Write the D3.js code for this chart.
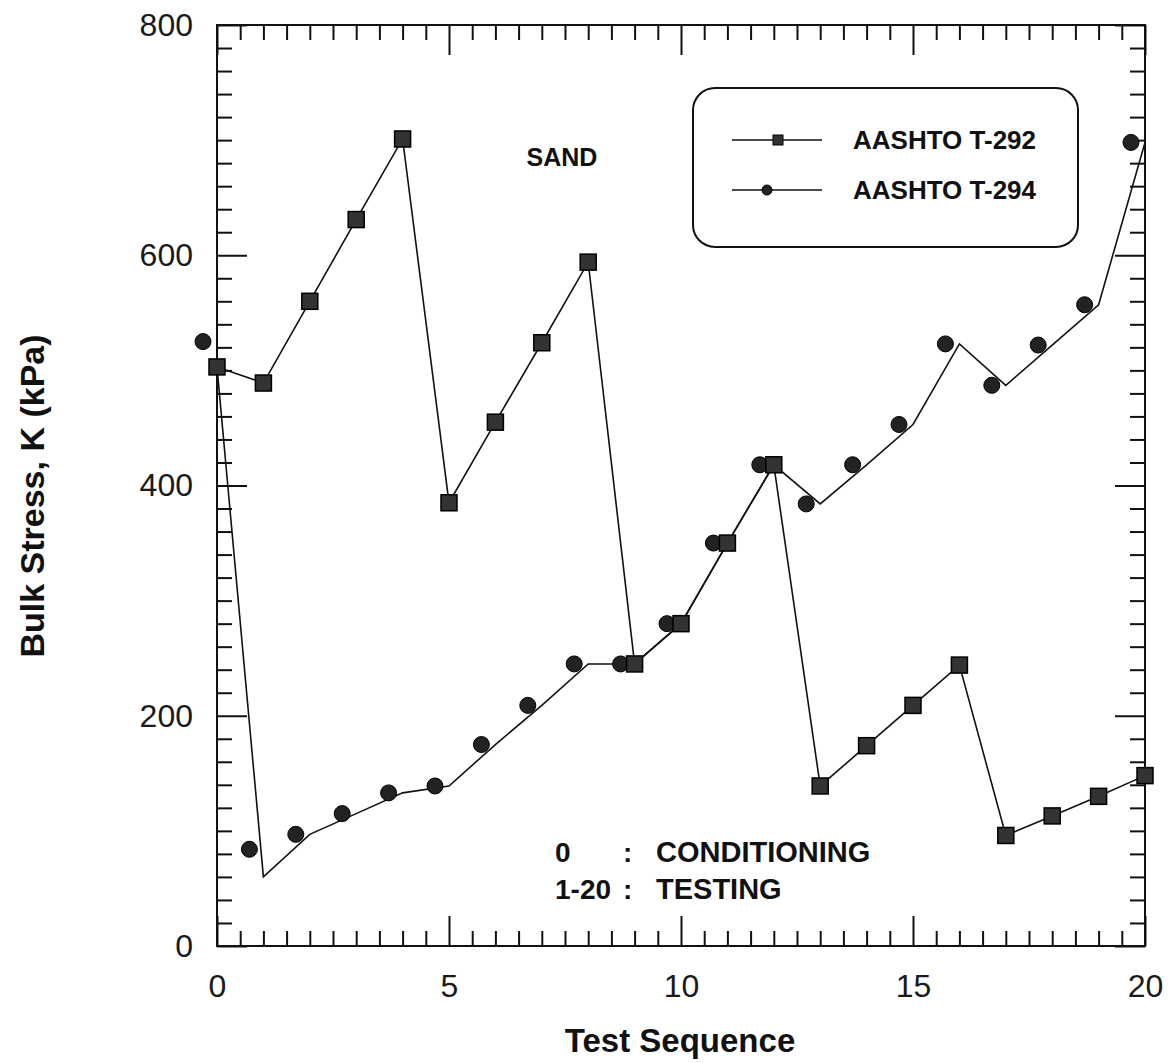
<!DOCTYPE html>
<html>
<head>
<meta charset="utf-8">
<script src="https://cdn.jsdelivr.net/npm/d3@7"></script>
<style>
  body { margin: 0; background: #fff; }
  svg { display: block; }
  .axis text { font-family: "Liberation Sans", Arial, sans-serif; font-size: 32px; fill: #1a1a1a; }
  .axis path { stroke: none; }
  .axis line { stroke: #111; stroke-width: 2; }
  .bold { font-family: "Liberation Sans", Arial, sans-serif; font-weight: bold; fill: #111; }
</style>
</head>
<body>
<div id="chart"></div>
<script>
// test sequence numbers (x)
var testSeq = [0, 1, 2, 3, 4, 5, 6, 7, 8, 9, 10, 11, 12, 13, 14, 15, 16, 17, 18, 19, 20];
// AASHTO T-292 bulk stress, kPa
var t292 = [503, 489, 560, 631, 701, 385, 455, 524, 594, 245, 280, 350, 418, 139, 174, 209, 244, 96, 113, 130, 148];
// AASHTO T-294 bulk stress at the markers, kPa
var t294Marks = [525, 84, 97, 115, 133, 139, 175, 209, 245, 245, 280, 350, 418, 384, 418, 453, 523, 487, 522, 557, 698];
// AASHTO T-294 connecting line as drawn
var t294Line = [503, 60, 97, 115, 133, 139, 175, 209, 245, 245, 280, 350, 418, 384, 418, 453, 523, 487, 522, 557, 698];

var xMajor = [0, 5, 10, 15, 20];
var yMajor = [0, 200, 400, 600, 800];

var W = 1168, H = 1063;
var MARGIN = {top: 25, right: 23, bottom: 117, left: 217},
    WIDTH = W - MARGIN.left - MARGIN.right,
    HEIGHT = H - MARGIN.top - MARGIN.bottom;

var svg = d3.select("#chart").append("svg")
    .attr("width", W)
    .attr("height", H);

var g = svg.append("g")
    .attr("transform", "translate(" + MARGIN.left + "," + MARGIN.top + ")");

var x = d3.scaleLinear().domain([0, 20]).range([0, WIDTH]);
var y = d3.scaleLinear().domain([0, 800]).range([HEIGHT, 0]);

var xMinor = d3.range(0, 20.01, 0.5).filter(function(v) { return v % 5 !== 0; });
var yMinor = d3.range(0, 801, 20).filter(function(v) { return v % 200 !== 0; });

// minor ticks, all four sides, pointing inward
g.append("g").attr("class", "axis").attr("transform", "translate(0," + HEIGHT + ")")
    .call(d3.axisBottom(x).tickValues(xMinor).tickSize(-15).tickFormat(""));
g.append("g").attr("class", "axis")
    .call(d3.axisTop(x).tickValues(xMinor).tickSize(-15).tickFormat(""));
g.append("g").attr("class", "axis")
    .call(d3.axisLeft(y).tickValues(yMinor).tickSize(-15).tickFormat(""));
g.append("g").attr("class", "axis").attr("transform", "translate(" + WIDTH + ",0)")
    .call(d3.axisRight(y).tickValues(yMinor).tickSize(-15).tickFormat(""));

// major ticks with labels
g.append("g").attr("class", "axis").attr("transform", "translate(0," + HEIGHT + ")")
    .call(d3.axisBottom(x).tickValues(xMajor).tickSize(-30).tickPadding(28).tickFormat(d3.format("d")));
g.append("g").attr("class", "axis")
    .call(d3.axisTop(x).tickValues(xMajor).tickSize(-30).tickFormat(""));
g.append("g").attr("class", "axis")
    .call(d3.axisLeft(y).tickValues(yMajor).tickSize(-30).tickPadding(24).tickFormat(d3.format("d")));
g.append("g").attr("class", "axis").attr("transform", "translate(" + WIDTH + ",0)")
    .call(d3.axisRight(y).tickValues(yMajor).tickSize(-30).tickFormat(""));

// frame
g.append("rect")
    .attr("width", WIDTH).attr("height", HEIGHT)
    .attr("fill", "none").attr("stroke", "#111").attr("stroke-width", 2);

var line = d3.line()
    .x(function(d) { return x(d[0]); })
    .y(function(d) { return y(d[1]); });

var d292 = testSeq.map(function(s, i) { return [s, t292[i]]; });
var d294line = testSeq.map(function(s, i) { return [s, t294Line[i]]; });
var d294 = testSeq.map(function(s, i) { return [s, t294Marks[i]]; });

g.append("path").attr("d", line(d294line))
    .attr("fill", "none").attr("stroke", "#111").attr("stroke-width", 1.6);
g.append("path").attr("d", line(d292))
    .attr("fill", "none").attr("stroke", "#111").attr("stroke-width", 1.6);

// circles sit a little left of the line vertices in the original
var CIRCLE_SHIFT = -14;
g.selectAll(".c294").data(d294).enter().append("circle")
    .attr("class", "c294")
    .attr("cx", function(d) { return x(d[0]) + CIRCLE_SHIFT; })
    .attr("cy", function(d) { return y(d[1]); })
    .attr("r", 8)
    .attr("fill", "#222").attr("stroke", "#000").attr("stroke-width", 1);

var SQ = 16;
g.selectAll(".s292").data(d292).enter().append("rect")
    .attr("class", "s292")
    .attr("x", function(d) { return x(d[0]) - SQ / 2; })
    .attr("y", function(d) { return y(d[1]) - SQ / 2; })
    .attr("width", SQ).attr("height", SQ)
    .attr("fill", "#333").attr("stroke", "#000").attr("stroke-width", 1.5);

// annotations
svg.append("text").attr("class", "bold").attr("x", 562).attr("y", 166)
    .attr("text-anchor", "middle").style("font-size", "25px").text("SAND");

var notes = [
  {a: "0", b: "CONDITIONING", ly: 862},
  {a: "1-20", b: "TESTING", ly: 899}
];
notes.forEach(function(n) {
  svg.append("text").attr("class", "bold").attr("x", 555).attr("y", n.ly)
      .style("font-size", "28px").text(n.a);
  svg.append("text").attr("class", "bold").attr("x", 623).attr("y", n.ly)
      .style("font-size", "28px").text(":");
  svg.append("text").attr("class", "bold").attr("x", 656).attr("y", n.ly)
      .style("font-size", "29px").text(n.b);
});

// legend
var lg = svg.append("g").attr("class", "legend");
lg.append("rect").attr("x", 693).attr("y", 88).attr("width", 385).attr("height", 159)
    .attr("rx", 22).attr("ry", 22)
    .attr("fill", "#fff").attr("stroke", "#111").attr("stroke-width", 2);
var legendItems = [
  {key: "AASHTO T-292", shape: "square", ly: 140},
  {key: "AASHTO T-294", shape: "circle", ly: 190}
];
legendItems.forEach(function(it) {
  lg.append("line").attr("x1", 732).attr("x2", 822).attr("y1", it.ly).attr("y2", it.ly)
      .attr("stroke", "#111").attr("stroke-width", 1.6);
  if (it.shape === "square") {
    lg.append("rect").attr("x", 773).attr("y", it.ly - 5).attr("width", 10).attr("height", 10)
        .attr("fill", "#333").attr("stroke", "#000");
  } else {
    lg.append("circle").attr("cx", 767).attr("cy", it.ly).attr("r", 5)
        .attr("fill", "#222").attr("stroke", "#000");
  }
  lg.append("text").attr("class", "bold").attr("x", 853).attr("y", it.ly + 9)
      .style("font-size", "26px").text(it.key);
});

// axis titles
svg.append("text").attr("class", "bold")
    .attr("x", 680).attr("y", 1052)
    .attr("text-anchor", "middle").style("font-size", "33px").text("Test Sequence");
svg.append("text").attr("class", "bold")
    .attr("transform", "translate(44,496) rotate(-90)")
    .attr("text-anchor", "middle").style("font-size", "34px").text("Bulk Stress, K  (kPa)");
</script>
</body>
</html>
